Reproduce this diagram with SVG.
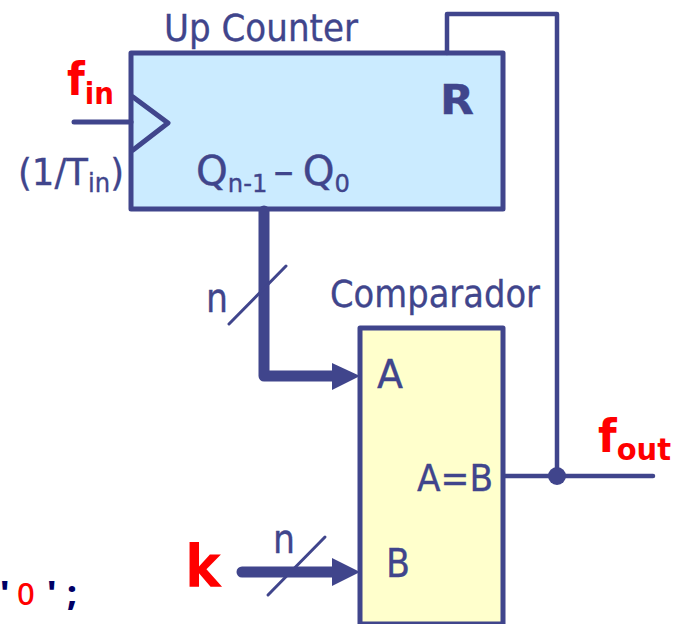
<svg xmlns="http://www.w3.org/2000/svg" width="678" height="624" viewBox="0 0 678 624">
<style>
.t{font-family:"DejaVu Sans",Verdana,sans-serif;fill:#40458c;stroke:#40458c;stroke-width:.35}
.r{font-family:"DejaVu Sans",Verdana,sans-serif;fill:#ff0000;font-weight:bold}
.m{font-family:"Noto Sans",sans-serif;font-size:34px;font-weight:800;fill:#000066}
.w{fill:none;stroke:#40458c;stroke-linecap:round;stroke-linejoin:round}
</style>
<rect width="678" height="624" fill="#fff"/>
<g id="counter">
<rect x="131" y="53" width="372" height="156" fill="#cbebff" stroke="#40458c" stroke-width="5" stroke-linejoin="round"/>
<path class="w" stroke-width="5" d="M133 97L168 123L133 150"/>
<text class="t" x="164" y="41" font-size="38" textLength="194" lengthAdjust="spacingAndGlyphs">Up Counter</text>
<text class="t" x="440" y="114" font-size="41" font-weight="bold" textLength="34" lengthAdjust="spacingAndGlyphs">R</text>
<text class="t" x="196" y="185" font-size="40" textLength="154" lengthAdjust="spacingAndGlyphs">Q<tspan font-size="24" dy="7">n-1</tspan><tspan dy="-7" dx="6">–</tspan><tspan dx="9">Q</tspan><tspan font-size="24" dy="7">0</tspan></text>
</g>
<g id="comparator">
<rect x="360" y="328" width="143" height="296" fill="#ffffcc" stroke="#40458c" stroke-width="5" stroke-linejoin="round"/>
<text class="t" x="330" y="307" font-size="38" textLength="210" lengthAdjust="spacingAndGlyphs">Comparador</text>
<text class="t" x="377" y="388" font-size="39" textLength="26" lengthAdjust="spacingAndGlyphs">A</text>
<text class="t" x="386" y="577" font-size="39" textLength="24" lengthAdjust="spacingAndGlyphs">B</text>
<text class="t" x="417" y="491" font-size="38" textLength="76" lengthAdjust="spacingAndGlyphs">A=B</text>
</g>
<g id="connectors">
<path class="w" stroke-width="5" d="M74 122H131"/>
<path class="w" stroke-width="4.5" d="M447 53V14H557V476"/>
<path class="w" stroke-width="4.5" d="M505 476H653"/>
<circle cx="557" cy="476" r="9" fill="#40458c"/>
<path class="w" stroke-width="11" d="M264 211V376H334"/>
<path d="M332 363L360 376L332 390Z" fill="#40458c"/>
<path class="w" stroke-width="3" d="M229 324L286 266"/>
<path class="w" stroke-width="11" d="M242 572H334"/>
<path d="M332 558L360 572L332 586Z" fill="#40458c"/>
<path class="w" stroke-width="3" d="M268 595L325 537"/>
</g>
<g id="labels">
<text class="r" x="67" y="95" font-size="46" textLength="47" lengthAdjust="spacingAndGlyphs">f<tspan font-size="31" dy="9">in</tspan></text>
<text class="t" x="18" y="185" font-size="38" textLength="106" lengthAdjust="spacingAndGlyphs">(1/T<tspan font-size="26" dy="7">in</tspan><tspan dy="-7">)</tspan></text>
<text class="t" x="206" y="312" font-size="40" textLength="22" lengthAdjust="spacingAndGlyphs">n</text>
<text class="t" x="273" y="553" font-size="40" textLength="22" lengthAdjust="spacingAndGlyphs">n</text>
<text class="r" x="598" y="452" font-size="46" textLength="73" lengthAdjust="spacingAndGlyphs">f<tspan font-size="31" dy="8">out</tspan></text>
<text class="r" x="185" y="587" font-size="58" textLength="36" lengthAdjust="spacingAndGlyphs">k</text>
<text class="m" y="605"><tspan x="0">'</tspan><tspan x="17" fill="#ff0000" font-size="31" font-weight="500">0</tspan><tspan x="47">'</tspan><tspan x="67">;</tspan></text>
</g>
</svg>
